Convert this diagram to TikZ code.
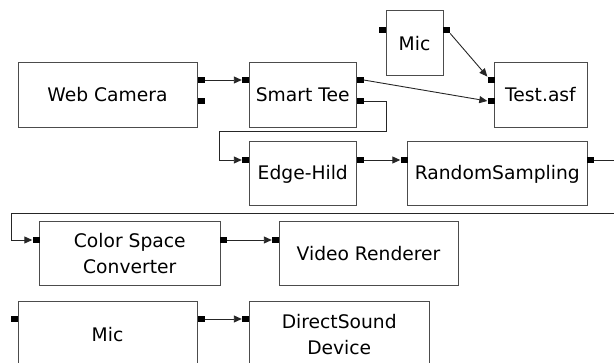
\documentclass[tikz,border=0pt]{standalone}
\usepackage{fontspec}
\setmainfont{DejaVu Sans}
\usetikzlibrary{arrows.meta}
\begin{document}
\begin{tikzpicture}[x=1pt,y=-1pt,
  filterbox/.style={draw=black!70, line width=1pt, fill=white, inner sep=0pt,
    align=center, font=\fontsize{18.7}{26}\selectfont},
  pin/.style={rectangle, fill=black, draw=none, inner sep=0pt,
    minimum width=7pt, minimum height=6.5pt},
  link/.style={draw=black!85, line width=0.9pt},
  flow/.style={link, -{Triangle[length=8pt,width=7pt]}}]
\useasboundingbox (0,0) rectangle (614,363);

% filter boxes
\node[filterbox, minimum width=179pt, minimum height=65pt] (wc) at (107.5,94.75) {Web Camera};
\node[filterbox, minimum width=106.5pt, minimum height=65pt] (st) at (302.75,94.75) {Smart Tee};
\node[filterbox, minimum width=57pt, minimum height=64.5pt] (mic1) at (414.5,43.25) {Mic};
\node[filterbox, minimum width=93pt, minimum height=65pt] (test) at (540.5,94.75) {Test.asf};
\node[filterbox, minimum width=106.5pt, minimum height=64pt] (eh) at (302.75,174) {Edge-Hild};
\node[filterbox, minimum width=179.5pt, minimum height=64pt] (rs) at (497.25,174) {RandomSampling};
\node[filterbox, minimum width=180.5pt, minimum height=64pt] (csc) at (129.75,254) {Color Space\\Converter};
\node[filterbox, minimum width=179pt, minimum height=64pt] (vr) at (368.5,254) {Video Renderer};
\node[filterbox, minimum width=179pt, minimum height=65pt] (mic2) at (107.5,334.5) {Mic};
\node[filterbox, minimum width=179.5pt, minimum height=65pt] (ds) at (339.25,334.5) {DirectSound\\Device};

% pins
\node[pin] (wc-o1) at (201,80) {};
\node[pin] (wc-o2) at (201,101) {};
\node[pin] (st-i) at (245.5,80) {};
\node[pin] (st-o1) at (360,80) {};
\node[pin] (st-o2) at (360,101) {};
\node[pin] (mic1-i) at (382.5,30) {};
\node[pin] (mic1-o) at (446.5,30) {};
\node[pin] (test-i1) at (491,80) {};
\node[pin] (test-i2) at (491,101) {};
\node[pin] (eh-i) at (245.5,160) {};
\node[pin] (eh-o) at (360,160) {};
\node[pin] (rs-i) at (404,160) {};
\node[pin] (rs-o) at (590.5,160) {};
\node[pin] (csc-i) at (36,240) {};
\node[pin] (csc-o) at (223.5,240) {};
\node[pin] (vr-i) at (275.5,240) {};
\node[pin] (mic2-i) at (14,319) {};
\node[pin] (mic2-o) at (201,319) {};
\node[pin] (ds-i) at (245.5,319) {};

% routing points
\coordinate (loopR) at (386,131.5);
\coordinate (loopL) at (219,131.5);
\coordinate (wrapR) at (622,213);
\coordinate (wrapL) at (11,213);

% connections
\draw[flow] (wc-o1.east) -- (st-i.west);
\draw[flow] (st-o1.east) -- (test-i2.west);
\draw[flow] (mic1-o.south east) -- (test-i1.north west);
\draw[flow] (st-o2.east) -| (loopR) -- (loopL) |- (eh-i.west);
\draw[flow] (eh-o.east) -- (rs-i.west);
\draw[flow] (rs-o.east) -| (wrapR) -- (wrapL) |- (csc-i.west);
\draw[flow] (csc-o.east) -- (vr-i.west);
\draw[flow] (mic2-o.east) -- (ds-i.west);
\end{tikzpicture}
\end{document}
